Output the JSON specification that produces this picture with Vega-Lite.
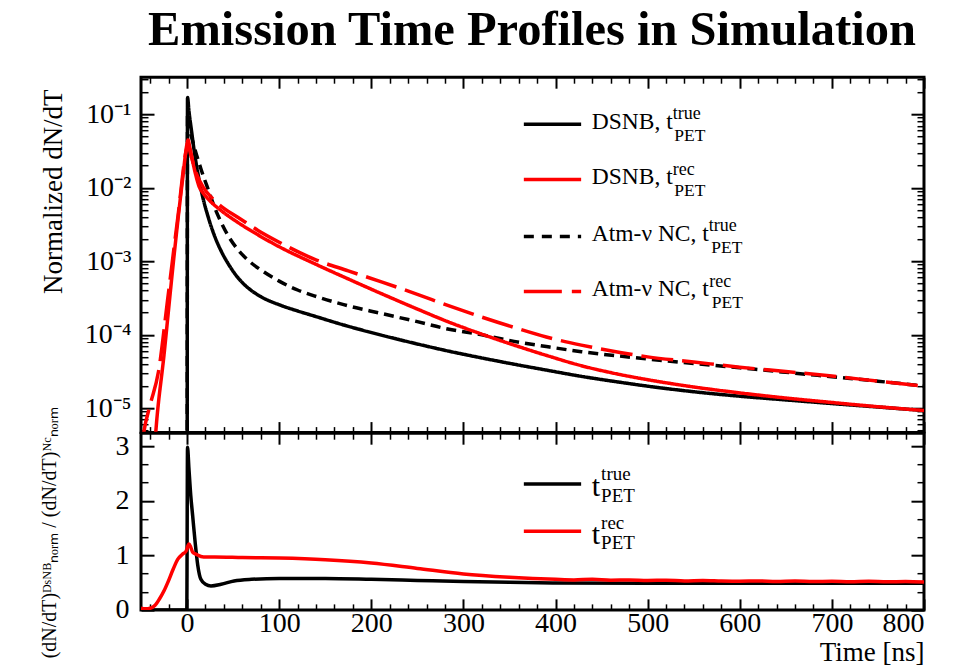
{
  "$schema": "https://vega.github.io/schema/vega-lite/v6.json",
  "background": "white",
  "padding": {"left": 37, "top": 6.2, "right": 0, "bottom": 0},
  "title": {"text": "Emission Time Profiles in Simulation", "font": "Liberation Serif", "fontSize": 48.5, "fontWeight": "bold", "color": "black", "anchor": "middle", "dx": 50, "offset": 19},
  "spacing": 0,
  "bounds": "flush",
  "resolve": {"scale": {"color": "independent", "strokeDash": "independent"}},
  "datasets": {
    "top": [
      {"s": "DSNB_true", "t": 0, "v": 1e-9},
      {"s": "DSNB_true", "t": 0.5, "v": 0.170},
      {"s": "DSNB_true", "t": 2, "v": 0.112},
      {"s": "DSNB_true", "t": 5, "v": 0.0575},
      {"s": "DSNB_true", "t": 8, "v": 0.0302},
      {"s": "DSNB_true", "t": 12, "v": 0.0151},
      {"s": "DSNB_true", "t": 16, "v": 0.00851},
      {"s": "DSNB_true", "t": 23, "v": 0.00398},
      {"s": "DSNB_true", "t": 30, "v": 0.00219},
      {"s": "DSNB_true", "t": 37, "v": 0.00138},
      {"s": "DSNB_true", "t": 45, "v": 0.000912},
      {"s": "DSNB_true", "t": 55, "v": 0.000603},
      {"s": "DSNB_true", "t": 66, "v": 0.000437},
      {"s": "DSNB_true", "t": 80, "v": 0.000331},
      {"s": "DSNB_true", "t": 102, "v": 0.000251},
      {"s": "DSNB_true", "t": 120, "v": 0.000211},
      {"s": "DSNB_true", "t": 138, "v": 0.000180},
      {"s": "DSNB_true", "t": 170, "v": 0.000136},
      {"s": "DSNB_true", "t": 211, "v": 0.0000989},
      {"s": "DSNB_true", "t": 250, "v": 0.0000750},
      {"s": "DSNB_true", "t": 283, "v": 0.0000603},
      {"s": "DSNB_true", "t": 320, "v": 0.0000484},
      {"s": "DSNB_true", "t": 355, "v": 0.0000398},
      {"s": "DSNB_true", "t": 390, "v": 0.0000331},
      {"s": "DSNB_true", "t": 428, "v": 0.0000272},
      {"s": "DSNB_true", "t": 470, "v": 0.0000226},
      {"s": "DSNB_true", "t": 500, "v": 0.0000200},
      {"s": "DSNB_true", "t": 550, "v": 0.0000168},
      {"s": "DSNB_true", "t": 600, "v": 0.0000146},
      {"s": "DSNB_true", "t": 650, "v": 0.0000130},
      {"s": "DSNB_true", "t": 700, "v": 0.0000116},
      {"s": "DSNB_true", "t": 750, "v": 0.0000104},
      {"s": "DSNB_true", "t": 800, "v": 0.00000933},
      {"s": "NC_true", "t": 0, "v": 1e-9},
      {"s": "NC_true", "t": 0.5, "v": 0.100},
      {"s": "NC_true", "t": 3, "v": 0.0631},
      {"s": "NC_true", "t": 8, "v": 0.0355},
      {"s": "NC_true", "t": 15, "v": 0.0182},
      {"s": "NC_true", "t": 24, "v": 0.00871},
      {"s": "NC_true", "t": 30, "v": 0.00537},
      {"s": "NC_true", "t": 37, "v": 0.00339},
      {"s": "NC_true", "t": 45, "v": 0.00219},
      {"s": "NC_true", "t": 55, "v": 0.00145},
      {"s": "NC_true", "t": 65, "v": 0.00107},
      {"s": "NC_true", "t": 84, "v": 0.000708},
      {"s": "NC_true", "t": 100, "v": 0.000537},
      {"s": "NC_true", "t": 120, "v": 0.000407},
      {"s": "NC_true", "t": 138, "v": 0.000339},
      {"s": "NC_true", "t": 170, "v": 0.000257},
      {"s": "NC_true", "t": 211, "v": 0.000195},
      {"s": "NC_true", "t": 250, "v": 0.000151},
      {"s": "NC_true", "t": 283, "v": 0.000120},
      {"s": "NC_true", "t": 320, "v": 0.000100},
      {"s": "NC_true", "t": 355, "v": 0.0000813},
      {"s": "NC_true", "t": 390, "v": 0.0000692},
      {"s": "NC_true", "t": 428, "v": 0.0000589},
      {"s": "NC_true", "t": 470, "v": 0.0000513},
      {"s": "NC_true", "t": 500, "v": 0.0000468},
      {"s": "NC_true", "t": 550, "v": 0.0000407},
      {"s": "NC_true", "t": 600, "v": 0.0000355},
      {"s": "NC_true", "t": 650, "v": 0.0000309},
      {"s": "NC_true", "t": 700, "v": 0.0000269},
      {"s": "NC_true", "t": 750, "v": 0.0000234},
      {"s": "NC_true", "t": 800, "v": 0.0000200},
      {"s": "NC_rec", "t": -53, "v": 0.000001},
      {"s": "NC_rec", "t": -47, "v": 0.00000468},
      {"s": "NC_rec", "t": -40, "v": 0.0000112},
      {"s": "NC_rec", "t": -31, "v": 0.0000316},
      {"s": "NC_rec", "t": -21, "v": 0.000309},
      {"s": "NC_rec", "t": -10, "v": 0.00398},
      {"s": "NC_rec", "t": 0, "v": 0.0355},
      {"s": "NC_rec", "t": 1, "v": 0.0380},
      {"s": "NC_rec", "t": 4, "v": 0.0282},
      {"s": "NC_rec", "t": 10, "v": 0.0158},
      {"s": "NC_rec", "t": 18, "v": 0.0100},
      {"s": "NC_rec", "t": 28, "v": 0.00708},
      {"s": "NC_rec", "t": 40, "v": 0.00525},
      {"s": "NC_rec", "t": 55, "v": 0.00398},
      {"s": "NC_rec", "t": 77, "v": 0.00263},
      {"s": "NC_rec", "t": 100, "v": 0.00182},
      {"s": "NC_rec", "t": 138, "v": 0.00107},
      {"s": "NC_rec", "t": 175, "v": 0.000741},
      {"s": "NC_rec", "t": 211, "v": 0.000525},
      {"s": "NC_rec", "t": 250, "v": 0.000355},
      {"s": "NC_rec", "t": 283, "v": 0.000251},
      {"s": "NC_rec", "t": 320, "v": 0.000174},
      {"s": "NC_rec", "t": 355, "v": 0.000126},
      {"s": "NC_rec", "t": 390, "v": 0.0000933},
      {"s": "NC_rec", "t": 428, "v": 0.0000724},
      {"s": "NC_rec", "t": 470, "v": 0.0000575},
      {"s": "NC_rec", "t": 500, "v": 0.0000501},
      {"s": "NC_rec", "t": 550, "v": 0.0000427},
      {"s": "NC_rec", "t": 600, "v": 0.0000363},
      {"s": "NC_rec", "t": 650, "v": 0.0000316},
      {"s": "NC_rec", "t": 700, "v": 0.0000275},
      {"s": "NC_rec", "t": 750, "v": 0.0000234},
      {"s": "NC_rec", "t": 800, "v": 0.0000200},
      {"s": "DSNB_rec", "t": -40, "v": 0.000000316},
      {"s": "DSNB_rec", "t": -34, "v": 0.00000468},
      {"s": "DSNB_rec", "t": -25, "v": 0.0000537},
      {"s": "DSNB_rec", "t": -14, "v": 0.00123},
      {"s": "DSNB_rec", "t": -5, "v": 0.0126},
      {"s": "DSNB_rec", "t": 0, "v": 0.0398},
      {"s": "DSNB_rec", "t": 1, "v": 0.0447},
      {"s": "DSNB_rec", "t": 3, "v": 0.0355},
      {"s": "DSNB_rec", "t": 8, "v": 0.0178},
      {"s": "DSNB_rec", "t": 13, "v": 0.0105},
      {"s": "DSNB_rec", "t": 18, "v": 0.00832},
      {"s": "DSNB_rec", "t": 25, "v": 0.00661},
      {"s": "DSNB_rec", "t": 37, "v": 0.00490},
      {"s": "DSNB_rec", "t": 55, "v": 0.00339},
      {"s": "DSNB_rec", "t": 77, "v": 0.00229},
      {"s": "DSNB_rec", "t": 100, "v": 0.00158},
      {"s": "DSNB_rec", "t": 138, "v": 0.000933},
      {"s": "DSNB_rec", "t": 175, "v": 0.000575},
      {"s": "DSNB_rec", "t": 211, "v": 0.000363},
      {"s": "DSNB_rec", "t": 250, "v": 0.000224},
      {"s": "DSNB_rec", "t": 283, "v": 0.000151},
      {"s": "DSNB_rec", "t": 320, "v": 0.000102},
      {"s": "DSNB_rec", "t": 355, "v": 0.0000724},
      {"s": "DSNB_rec", "t": 390, "v": 0.0000525},
      {"s": "DSNB_rec", "t": 428, "v": 0.0000380},
      {"s": "DSNB_rec", "t": 470, "v": 0.0000288},
      {"s": "DSNB_rec", "t": 500, "v": 0.0000245},
      {"s": "DSNB_rec", "t": 550, "v": 0.0000195},
      {"s": "DSNB_rec", "t": 600, "v": 0.0000162},
      {"s": "DSNB_rec", "t": 650, "v": 0.0000138},
      {"s": "DSNB_rec", "t": 700, "v": 0.0000120},
      {"s": "DSNB_rec", "t": 750, "v": 0.0000105},
      {"s": "DSNB_rec", "t": 800, "v": 0.00000933}
    ],
    "bottom": [
      {"s": "true", "t": -50, "v": 0},
      {"s": "true", "t": -0.3, "v": 0},
      {"s": "true", "t": 0.5, "v": 2.98},
      {"s": "true", "t": 2, "v": 2.6},
      {"s": "true", "t": 4, "v": 2.1},
      {"s": "true", "t": 6, "v": 1.74},
      {"s": "true", "t": 9, "v": 1.2},
      {"s": "true", "t": 11.6, "v": 0.82},
      {"s": "true", "t": 15, "v": 0.56},
      {"s": "true", "t": 20, "v": 0.47},
      {"s": "true", "t": 26, "v": 0.44},
      {"s": "true", "t": 37, "v": 0.47},
      {"s": "true", "t": 51, "v": 0.53},
      {"s": "true", "t": 70, "v": 0.56},
      {"s": "true", "t": 100, "v": 0.575},
      {"s": "true", "t": 150, "v": 0.575},
      {"s": "true", "t": 200, "v": 0.56},
      {"s": "true", "t": 250, "v": 0.54},
      {"s": "true", "t": 300, "v": 0.52},
      {"s": "true", "t": 350, "v": 0.505},
      {"s": "true", "t": 400, "v": 0.495},
      {"s": "true", "t": 500, "v": 0.49},
      {"s": "true", "t": 600, "v": 0.49},
      {"s": "true", "t": 700, "v": 0.49},
      {"s": "true", "t": 800, "v": 0.49},
      {"s": "rec", "t": -50, "v": 0.03},
      {"s": "rec", "t": -45, "v": 0.02},
      {"s": "rec", "t": -40, "v": 0.03},
      {"s": "rec", "t": -35, "v": 0.08},
      {"s": "rec", "t": -30, "v": 0.2},
      {"s": "rec", "t": -25, "v": 0.35},
      {"s": "rec", "t": -21, "v": 0.5},
      {"s": "rec", "t": -15, "v": 0.75},
      {"s": "rec", "t": -10, "v": 0.93},
      {"s": "rec", "t": -5, "v": 1.02},
      {"s": "rec", "t": -1, "v": 1.08},
      {"s": "rec", "t": 2, "v": 1.21},
      {"s": "rec", "t": 4, "v": 1.15},
      {"s": "rec", "t": 6, "v": 1.06},
      {"s": "rec", "t": 10, "v": 1.02},
      {"s": "rec", "t": 18, "v": 0.97},
      {"s": "rec", "t": 30, "v": 0.97},
      {"s": "rec", "t": 60, "v": 0.96},
      {"s": "rec", "t": 100, "v": 0.95},
      {"s": "rec", "t": 150, "v": 0.92},
      {"s": "rec", "t": 200, "v": 0.86},
      {"s": "rec", "t": 250, "v": 0.76},
      {"s": "rec", "t": 300, "v": 0.66},
      {"s": "rec", "t": 350, "v": 0.6},
      {"s": "rec", "t": 400, "v": 0.56},
      {"s": "rec", "t": 420, "v": 0.55},
      {"s": "rec", "t": 440, "v": 0.56},
      {"s": "rec", "t": 460, "v": 0.545},
      {"s": "rec", "t": 480, "v": 0.55},
      {"s": "rec", "t": 500, "v": 0.54},
      {"s": "rec", "t": 520, "v": 0.545},
      {"s": "rec", "t": 540, "v": 0.53},
      {"s": "rec", "t": 560, "v": 0.54},
      {"s": "rec", "t": 580, "v": 0.53},
      {"s": "rec", "t": 600, "v": 0.525},
      {"s": "rec", "t": 620, "v": 0.53},
      {"s": "rec", "t": 640, "v": 0.52},
      {"s": "rec", "t": 660, "v": 0.53},
      {"s": "rec", "t": 680, "v": 0.52},
      {"s": "rec", "t": 700, "v": 0.525},
      {"s": "rec", "t": 720, "v": 0.515},
      {"s": "rec", "t": 740, "v": 0.525},
      {"s": "rec", "t": 760, "v": 0.515},
      {"s": "rec", "t": 780, "v": 0.52},
      {"s": "rec", "t": 800, "v": 0.51}
    ]
  },
  "vconcat": [
    {
      "width": 783,
      "height": 355.4,
      "resolve": {"axis": {"x": "independent", "y": "independent"}},
      "layer": [
        {
          "data": {"name": "top"},
          "mark": {"type": "line", "strokeWidth": 3.5, "clip": true, "strokeCap": "butt", "interpolate": "monotone"},
          "encoding": {
            "x": {"field": "t", "type": "quantitative", "scale": {"domain": [-50, 800], "nice": false, "zero": false},
                  "axis": {"orient": "bottom", "values": [0,100,200,300,400,500,600,700,800], "labels": false, "tickSize": -11, "tickWidth": 2, "title": null}},
            "y": {"field": "v", "type": "quantitative", "scale": {"type": "log", "domain": [0.00000467, 0.32], "nice": false},
                  "axis": {"orient": "left", "values": [0.00001, 0.0001, 0.001, 0.01, 0.1], "ticks": false, "labelFontSize": 28, "labelPadding": 10,
                           "labelExpr": "datum.value < 0.00002 ? '10⁻⁵' : datum.value < 0.0002 ? '10⁻⁴' : datum.value < 0.002 ? '10⁻³' : datum.value < 0.02 ? '10⁻²' : '10⁻¹'",
                           "title": "Normalized dN/dT", "titleFontSize": 27, "titleX": -88, "titleY": 114, "titleBaseline": "middle", "titleAngle": -90, "titleAlign": "center"}},
            "color": {"field": "s", "type": "nominal", "scale": {"domain": ["DSNB_true", "NC_true", "NC_rec", "DSNB_rec"], "range": ["#000000", "#000000", "#ff0000", "#ff0000"]}, "legend": null},
            "strokeDash": {"field": "s", "type": "nominal", "scale": {"domain": ["DSNB_true", "NC_true", "NC_rec", "DSNB_rec"], "range": [[1,0],[10,6],[32,9],[1,0]]}, "legend": null}
          }
        },
        {
          "data": {"values": [{}]},
          "mark": {"type": "rule", "color": "#000000", "strokeWidth": 3.5},
          "encoding": {
            "x": {"datum": 365.6, "type": "quantitative", "axis": {"orient": "bottom", "values": [-40,-20,20,40,60,80,120,140,160,180,220,240,260,280,320,340,360,380,420,440,460,480,520,540,560,580,620,640,660,680,720,740,760,780], "labels": false, "tickSize": -6, "tickWidth": 1.5, "title": null}},
            "x2": {"datum": 427.8},
            "y": {"datum": 0.07313, "type": "quantitative", "axis": {"orient": "left", "values": [0.00001, 0.0001, 0.001, 0.01, 0.1], "labels": false, "tickSize": -13, "tickWidth": 2, "title": null}}
          }
        },
        {
          "data": {"values": [{}]},
          "mark": {"type": "rule", "color": "#ff0000", "strokeWidth": 3.5},
          "encoding": {
            "x": {"datum": 365.6, "type": "quantitative", "axis": {"orient": "top", "values": [0,100,200,300,400,500,600,700,800], "labels": false, "tickSize": -11, "tickWidth": 2, "title": null}},
            "x2": {"datum": 427.8},
            "y": {"datum": 0.01293, "type": "quantitative", "axis": {"orient": "left", "values": [0.000005,0.000006,0.000007,0.000008,0.000009,0.00002,0.00003,0.00004,0.00005,0.00006,0.00007,0.00008,0.00009,0.0002,0.0003,0.0004,0.0005,0.0006,0.0007,0.0008,0.0009,0.002,0.003,0.004,0.005,0.006,0.007,0.008,0.009,0.02,0.03,0.04,0.05,0.06,0.07,0.08,0.09,0.2,0.3], "labels": false, "tickSize": -7, "tickWidth": 1.5, "title": null}}
          }
        },
        {
          "data": {"values": [{}]},
          "mark": {"type": "rule", "color": "#000000", "strokeWidth": 3.5, "strokeDash": [10, 8]},
          "encoding": {
            "x": {"datum": 365.6, "type": "quantitative", "axis": {"orient": "top", "values": [-40,-20,20,40,60,80,120,140,160,180,220,240,260,280,320,340,360,380,420,440,460,480,520,540,560,580,620,640,660,680,720,740,760,780], "labels": false, "tickSize": -6, "tickWidth": 1.5, "title": null}},
            "x2": {"datum": 427.8},
            "y": {"datum": 0.002168, "type": "quantitative", "axis": {"orient": "right", "values": [0.00001, 0.0001, 0.001, 0.01, 0.1], "labels": false, "tickSize": -13, "tickWidth": 2, "title": null}}
          }
        },
        {
          "data": {"values": [{}]},
          "mark": {"type": "rule", "color": "#ff0000", "strokeWidth": 3.5, "strokeDash": [38, 10]},
          "encoding": {
            "x": {"datum": 365.6, "type": "quantitative", "axis": null},
            "x2": {"datum": 427.8},
            "y": {"datum": 0.000387, "type": "quantitative", "axis": {"orient": "right", "values": [0.000005,0.000006,0.000007,0.000008,0.000009,0.00002,0.00003,0.00004,0.00005,0.00006,0.00007,0.00008,0.00009,0.0002,0.0003,0.0004,0.0005,0.0006,0.0007,0.0008,0.0009,0.002,0.003,0.004,0.005,0.006,0.007,0.008,0.009,0.02,0.03,0.04,0.05,0.06,0.07,0.08,0.09,0.2,0.3], "labels": false, "tickSize": -7, "tickWidth": 1.5, "title": null}}
          }
        },
        {"data": {"values": [{}]}, "mark": {"type": "text", "text": "DSNB, t", "fontSize": 23.5, "align": "left", "baseline": "alphabetic", "dy": 4.6},
         "encoding": {"x": {"datum": 439.4, "type": "quantitative", "axis": null}, "y": {"datum": 0.07313, "type": "quantitative", "axis": null}}},
        {"data": {"values": [{}]}, "mark": {"type": "text", "text": "true", "fontSize": 18, "align": "left", "baseline": "alphabetic", "dx": 81, "dy": -5.4},
         "encoding": {"x": {"datum": 439.4, "type": "quantitative", "axis": null}, "y": {"datum": 0.07313, "type": "quantitative", "axis": null}}},
        {"data": {"values": [{}]}, "mark": {"type": "text", "text": "PET", "fontSize": 17.5, "align": "left", "baseline": "alphabetic", "dx": 82.5, "dy": 16.6},
         "encoding": {"x": {"datum": 439.4, "type": "quantitative", "axis": null}, "y": {"datum": 0.07313, "type": "quantitative", "axis": null}}},
        {"data": {"values": [{}]}, "mark": {"type": "text", "text": "DSNB, t", "fontSize": 23.5, "align": "left", "baseline": "alphabetic", "dy": 4.6},
         "encoding": {"x": {"datum": 439.4, "type": "quantitative", "axis": null}, "y": {"datum": 0.01293, "type": "quantitative", "axis": null}}},
        {"data": {"values": [{}]}, "mark": {"type": "text", "text": "rec", "fontSize": 18, "align": "left", "baseline": "alphabetic", "dx": 81, "dy": -5},
         "encoding": {"x": {"datum": 439.4, "type": "quantitative", "axis": null}, "y": {"datum": 0.01293, "type": "quantitative", "axis": null}}},
        {"data": {"values": [{}]}, "mark": {"type": "text", "text": "PET", "fontSize": 17.5, "align": "left", "baseline": "alphabetic", "dx": 82.5, "dy": 16.6},
         "encoding": {"x": {"datum": 439.4, "type": "quantitative", "axis": null}, "y": {"datum": 0.01293, "type": "quantitative", "axis": null}}},
        {"data": {"values": [{}]}, "mark": {"type": "text", "text": "Atm-ν NC, t", "fontSize": 23.5, "align": "left", "baseline": "alphabetic", "dy": 4.6},
         "encoding": {"x": {"datum": 439.4, "type": "quantitative", "axis": null}, "y": {"datum": 0.002168, "type": "quantitative", "axis": null}}},
        {"data": {"values": [{}]}, "mark": {"type": "text", "text": "true", "fontSize": 18, "align": "left", "baseline": "alphabetic", "dx": 117, "dy": -5.4},
         "encoding": {"x": {"datum": 439.4, "type": "quantitative", "axis": null}, "y": {"datum": 0.002168, "type": "quantitative", "axis": null}}},
        {"data": {"values": [{}]}, "mark": {"type": "text", "text": "PET", "fontSize": 17.5, "align": "left", "baseline": "alphabetic", "dx": 119.5, "dy": 16.6},
         "encoding": {"x": {"datum": 439.4, "type": "quantitative", "axis": null}, "y": {"datum": 0.002168, "type": "quantitative", "axis": null}}},
        {"data": {"values": [{}]}, "mark": {"type": "text", "text": "Atm-ν NC, t", "fontSize": 23.5, "align": "left", "baseline": "alphabetic", "dy": 4.6},
         "encoding": {"x": {"datum": 439.4, "type": "quantitative", "axis": null}, "y": {"datum": 0.000387, "type": "quantitative", "axis": null}}},
        {"data": {"values": [{}]}, "mark": {"type": "text", "text": "rec", "fontSize": 18, "align": "left", "baseline": "alphabetic", "dx": 117.5, "dy": -5},
         "encoding": {"x": {"datum": 439.4, "type": "quantitative", "axis": null}, "y": {"datum": 0.000387, "type": "quantitative", "axis": null}}},
        {"data": {"values": [{}]}, "mark": {"type": "text", "text": "PET", "fontSize": 17.5, "align": "left", "baseline": "alphabetic", "dx": 120, "dy": 16.6},
         "encoding": {"x": {"datum": 439.4, "type": "quantitative", "axis": null}, "y": {"datum": 0.000387, "type": "quantitative", "axis": null}}}
      ]
    },
    {
      "width": 783,
      "height": 176.7,
      "resolve": {"axis": {"x": "independent", "y": "independent"}},
      "layer": [
        {
          "data": {"name": "bottom"},
          "mark": {"type": "line", "strokeWidth": 3.5, "clip": true, "interpolate": "monotone"},
          "encoding": {
            "x": {"field": "t", "type": "quantitative", "scale": {"domain": [-50, 800], "nice": false, "zero": false},
                  "axis": {"orient": "bottom", "values": [0,100,200,300,400,500,600,700,800], "ticks": false, "labelFontSize": 28, "labelPadding": 0,
                           "title": "Time [ns]", "titleFontSize": 27, "titleAnchor": "end", "titleAlign": "right", "titleX": 783, "titleY": 51, "titleBaseline": "alphabetic"}},
            "y": {"field": "v", "type": "quantitative", "scale": {"domain": [0, 3.24], "nice": false, "zero": false},
                  "axis": {"orient": "left", "values": [0,1,2,3], "ticks": false, "labelFontSize": 28, "labelPadding": 12,
                           "title": "(dN/dT)ᴰˢᴺᴮₙₒᵣₘ / (dN/dT)ᴺᶜₙₒᵣₘ", "titleFontSize": 20, "titleX": -92, "titleY": 99, "titleBaseline": "middle", "titleAngle": -90, "titleAlign": "center"}},
            "color": {"field": "s", "type": "nominal", "scale": {"domain": ["true", "rec"], "range": ["#000000", "#ff0000"]}, "legend": null}
          }
        },
        {
          "data": {"values": [{}]},
          "mark": {"type": "rule", "color": "#000000", "strokeWidth": 3.5},
          "encoding": {
            "x": {"datum": 365.6, "type": "quantitative", "axis": {"orient": "bottom", "values": [0,100,200,300,400,500,600,700,800], "labels": false, "tickSize": -11, "tickWidth": 2, "title": null}},
            "x2": {"datum": 427.8},
            "y": {"datum": 2.31, "type": "quantitative", "axis": {"orient": "left", "values": [0,1,2,3], "labels": false, "tickSize": -13, "tickWidth": 2, "title": null}}
          }
        },
        {
          "data": {"values": [{}]},
          "mark": {"type": "rule", "color": "#ff0000", "strokeWidth": 3.5},
          "encoding": {
            "x": {"datum": 365.6, "type": "quantitative", "axis": {"orient": "bottom", "values": [-40,-20,20,40,60,80,120,140,160,180,220,240,260,280,320,340,360,380,420,440,460,480,520,540,560,580,620,640,660,680,720,740,760,780], "labels": false, "tickSize": -6, "tickWidth": 1.5, "title": null}},
            "x2": {"datum": 427.8},
            "y": {"datum": 1.443, "type": "quantitative", "axis": {"orient": "left", "values": [0.3333,0.6667,1.3333,1.6667,2.3333,2.6667], "labels": false, "tickSize": -7, "tickWidth": 1.5, "title": null}}
          }
        },
        {"data": {"values": [{}]}, "mark": {"type": "text", "text": "t", "fontSize": 30, "align": "left", "baseline": "alphabetic", "dy": 11.6},
         "encoding": {"x": {"datum": 439.4, "type": "quantitative", "axis": {"orient": "top", "values": [0,100,200,300,400,500,600,700,800], "labels": false, "tickSize": -11, "tickWidth": 2, "title": null}},
                      "y": {"datum": 2.31, "type": "quantitative", "axis": {"orient": "right", "values": [0,1,2,3], "labels": false, "tickSize": -13, "tickWidth": 2, "title": null}}}},
        {"data": {"values": [{}]}, "mark": {"type": "text", "text": "true", "fontSize": 19, "align": "left", "baseline": "alphabetic", "dx": 9.3, "dy": -4.4},
         "encoding": {"x": {"datum": 439.4, "type": "quantitative", "axis": {"orient": "top", "values": [-40,-20,20,40,60,80,120,140,160,180,220,240,260,280,320,340,360,380,420,440,460,480,520,540,560,580,620,640,660,680,720,740,760,780], "labels": false, "tickSize": -6, "tickWidth": 1.5, "title": null}},
                      "y": {"datum": 2.31, "type": "quantitative", "axis": {"orient": "right", "values": [0.3333,0.6667,1.3333,1.6667,2.3333,2.6667], "labels": false, "tickSize": -7, "tickWidth": 1.5, "title": null}}}},
        {"data": {"values": [{}]}, "mark": {"type": "text", "text": "PET", "fontSize": 19, "align": "left", "baseline": "alphabetic", "dx": 9.3, "dy": 18.3},
         "encoding": {"x": {"datum": 439.4, "type": "quantitative", "axis": null}, "y": {"datum": 2.31, "type": "quantitative", "axis": null}}},
        {"data": {"values": [{}]}, "mark": {"type": "text", "text": "t", "fontSize": 30, "align": "left", "baseline": "alphabetic", "dy": 12.7},
         "encoding": {"x": {"datum": 439.4, "type": "quantitative", "axis": null}, "y": {"datum": 1.443, "type": "quantitative", "axis": null}}},
        {"data": {"values": [{}]}, "mark": {"type": "text", "text": "rec", "fontSize": 19, "align": "left", "baseline": "alphabetic", "dx": 9.3, "dy": -2},
         "encoding": {"x": {"datum": 439.4, "type": "quantitative", "axis": null}, "y": {"datum": 1.443, "type": "quantitative", "axis": null}}},
        {"data": {"values": [{}]}, "mark": {"type": "text", "text": "PET", "fontSize": 19, "align": "left", "baseline": "alphabetic", "dx": 9.3, "dy": 17.7},
         "encoding": {"x": {"datum": 439.4, "type": "quantitative", "axis": null}, "y": {"datum": 1.443, "type": "quantitative", "axis": null}}}
      ]
    }
  ],
  "config": {
    "view": {"stroke": "#000000", "strokeWidth": 3},
    "font": "Liberation Serif",
    "axis": {"labelFont": "Liberation Serif", "titleFont": "Liberation Serif", "labelColor": "#000000", "titleColor": "#000000", "tickColor": "#000000", "grid": false, "domain": false, "titleFontWeight": "normal"},
    "text": {"font": "Liberation Serif", "color": "#000000"}
  }
}
